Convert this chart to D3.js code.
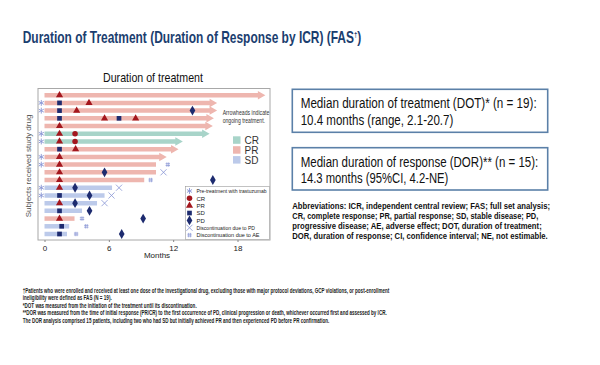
<!DOCTYPE html>
<html>
<head>
<meta charset="utf-8">
<script src="https://cdnjs.cloudflare.com/ajax/libs/d3/7.8.5/d3.min.js"></script>
<style>
  body { margin: 0; background: #fff; }
  svg { display: block; font-family: "Liberation Sans Narrow", "Liberation Sans", Arial, sans-serif; }
</style>
</head>
<body>
<svg id="chart" width="600" height="365"></svg>
<script>
// ---- data (months) ----
var subjects     = d3.range(1, 20);
var bestResponse = ["PR","PR","PR","PR","PR","CR","CR","PR","PR","PR","PR","PR","SD","SD","SD","SD","PR","SD","SD"];
var treatMonths  = [20.6, 16.1, 16.1, 15.8, 15.7, 15.4, 12.9, 12.5, 11.4, 10.4, 10.4, 9.3, 6.3, 5.6, 4.9, 3.5, 2.8, 2.3, 2.1];
var ongoing      = [1, 1, 1, 1, 1, 1, 1, 1, 1, 0, 0, 0, 0, 0, 0, 0, 0, 0, 0];
var pretreated   = [0, 1, 1, 0, 0, 1, 1, 0, 1, 1, 0, 0, 1, 1, 0, 0, 0, 0, 0];
var discReason   = [null, null, null, null, null, null, null, null, null, "AE", "PD", "AE", "PD", "PD", "PD", null, "AE", "AE", "AE"];
var discMonths   = [null, null, null, null, null, null, null, null, null, 11.5, 11.1, 9.9, 6.95, 6.25, 5.6, null, 3.5, 3.9, 2.95];
// [subject, assessment, month]
var assessments = [
  [1, "PR", 1.4],
  [2, "SD", 1.4], [2, "PR", 4.15],
  [3, "SD", 1.4], [3, "PR", 3.0], [3, "PD", 13.8],
  [4, "SD", 1.4], [4, "PR", 5.6], [4, "SD", 6.95], [4, "PR", 8.5],
  [5, "PR", 1.4],
  [6, "PR", 1.4], [6, "CR", 2.85],
  [7, "PR", 1.4], [7, "CR", 2.85],
  [8, "SD", 1.4], [8, "PR", 2.9],
  [9, "PR", 1.4],
  [10, "PR", 1.4],
  [11, "PR", 1.4], [11, "PD", 5.6],
  [12, "PR", 1.4], [12, "PD", 15.7],
  [13, "PR", 1.4], [13, "PD", 2.85],
  [14, "SD", 1.4], [14, "PD", 4.2],
  [15, "PR", 1.4], [15, "PD", 2.85],
  [16, "SD", 1.4], [16, "PD", 4.2],
  [17, "PR", 1.4], [17, "PD", 9.2],
  [18, "SD", 1.6],
  [19, "SD", 1.4], [19, "PD", 7.2]
];
var xTicks = [0, 6, 12, 18];
var barLegend = ["CR", "PR", "SD"];
var markerLegend = [
  ["pre", "Pre-treatment with trastuzumab", 70],
  ["CR", "CR", 0], ["PR", "PR", 0], ["SD", "SD", 0], ["PD", "PD", 0],
  ["xPD", "Discontinuation due to PD", 58.5],
  ["xAE", "Discontinuation due to AE", 63]
];

var barColor = { CR: "#a8d4c9", PR: "#eeb6af", SD: "#bccaea" };
var red = "#a3161d", navy = "#1d2b6f", lilac = "#8794d4";

var svg = d3.select("#chart");

// squeeze a text line to the width measured on the reference
function fit(sel, w) { sel.attr("textLength", w).attr("lengthAdjust", "spacingAndGlyphs"); return sel; }

// ---- page title (one text, squeezed horizontally) ----
var title = svg.append("text").attr("x", 0).attr("y", 0).attr("font-size", 16).attr("font-weight", "bold")
  .attr("fill", "#1b3e6f");
title.append("tspan").text("Duration of Treatment (Duration of Response by ICR) (FAS");
title.append("tspan").attr("font-size", 8).attr("dy", -6).text("†");
title.append("tspan").attr("dy", 6).text(")");
var tw = title.node().getComputedTextLength();
title.attr("transform", "translate(22.7,42.5) scale(" + (339 / tw) + ",1)");

// ---- plot ----
var x = d3.scaleLinear().domain([0, 18]).range([44.5, 237.5]);
var y = d3.scalePoint().domain(subjects).range([95.2, 234]);
var frame = { l: 38, t: 88.5, r: 270, b: 240 };

fit(svg.append("text").attr("x", 153).attr("y", 82).attr("text-anchor", "middle")
  .attr("font-size", 13).attr("fill", "#111").text("Duration of treatment"), 100);

svg.append("rect").attr("x", frame.l).attr("y", frame.t)
  .attr("width", frame.r - frame.l).attr("height", frame.b - frame.t)
  .attr("fill", "none").attr("stroke", "#a8a8a8").attr("stroke-width", 1);

var xAxis = svg.append("g").attr("transform", "translate(0," + frame.b + ")")
  .call(d3.axisBottom(x).tickValues(xTicks).tickSize(2).tickPadding(3));
xAxis.select(".domain").remove();
xAxis.selectAll("line").attr("stroke", "#888");
xAxis.selectAll("text").attr("font-size", 8).attr("fill", "#222")
  .attr("font-family", "Liberation Sans Narrow, Arial, sans-serif");

svg.append("text").attr("x", 157).attr("y", 258).attr("text-anchor", "middle")
  .attr("font-size", 8).attr("fill", "#222").text("Months");
svg.append("text").attr("transform", "translate(31,166) rotate(-90)").attr("text-anchor", "middle")
  .attr("font-size", 8).attr("fill", "#555").text("Subjects received study drug");

var bh = 4.5, ah = 8.5, al = 7.5;
var rows = subjects.map(function(s, i) {
  return { s: s, resp: bestResponse[i], end: treatMonths[i], on: ongoing[i], pre: pretreated[i],
           disc: discReason[i], discAt: discMonths[i] };
});

// bars, with an arrowhead when treatment is ongoing
svg.append("g").selectAll("path").data(rows).join("path")
  .attr("fill", function(d) { return barColor[d.resp]; })
  .attr("d", function(d) {
    var x0 = x(0), x1 = x(d.end), yc = y(d.s);
    if (!d.on) return "M" + x0 + "," + (yc - bh / 2) + "H" + x1 + "V" + (yc + bh / 2) + "H" + x0 + "Z";
    var xb = x1 - al;
    return "M" + x0 + "," + (yc - bh / 2) + "H" + xb + "V" + (yc - ah / 2) + "L" + x1 + "," + yc +
           "L" + xb + "," + (yc + ah / 2) + "V" + (yc + bh / 2) + "H" + x0 + "Z";
  });

function hashPath(cx, cy) {
  var s = 2.2, g = 0.9;
  return "M" + (cx - s) + "," + (cy - g) + "H" + (cx + s) + "M" + (cx - s) + "," + (cy + g) + "H" + (cx + s) +
         "M" + (cx - g) + "," + (cy - s) + "V" + (cy + s) + "M" + (cx + g) + "," + (cy - s) + "V" + (cy + s);
}
function drawMarker(g, type, cx, cy) {
  var sym;
  if (type === "PR") sym = g.append("path").attr("d", d3.symbol(d3.symbolTriangle, 22)()).attr("fill", red);
  else if (type === "CR") sym = g.append("path").attr("d", d3.symbol(d3.symbolCircle, 24)()).attr("fill", red);
  else if (type === "SD") sym = g.append("path").attr("d", d3.symbol(d3.symbolSquare, 22)()).attr("fill", navy);
  else if (type === "PD") sym = g.append("path").attr("d", d3.symbol(d3.symbolDiamond, 28)()).attr("fill", navy);
  else if (type === "pre") sym = g.append("path").attr("d", d3.symbol(d3.symbolAsterisk, 24)())
    .attr("fill", "none").attr("stroke", lilac).attr("stroke-width", 0.9);
  else if (type === "xPD") sym = g.append("path").attr("d", d3.symbol(d3.symbolTimes, 26)())
    .attr("fill", "none").attr("stroke", lilac).attr("stroke-width", 0.8);
  else if (type === "xAE") { g.append("path").attr("d", hashPath(cx, cy)).attr("fill", "none")
    .attr("stroke", lilac).attr("stroke-width", 0.7); return; }
  sym.attr("transform", "translate(" + cx + "," + cy + ")");
}

var marks = svg.append("g");
rows.forEach(function(d) {
  if (d.pre) drawMarker(marks, "pre", x(-0.3), y(d.s));
  if (d.disc) drawMarker(marks, d.disc === "PD" ? "xPD" : "xAE", x(d.discAt), y(d.s));
});
assessments.forEach(function(a) { drawMarker(marks, a[1], x(a[2]), y(a[0])); });

// arrow note
fit(svg.append("text").attr("x", 222.7).attr("y", 115).attr("font-size", 6.5).attr("fill", "#333")
  .text("Arrowheads indicate"), 46.6);
fit(svg.append("text").attr("x", 222.7).attr("y", 122.5).attr("font-size", 6.5).attr("fill", "#333")
  .text("ongoing treatment."), 42.3);

// bar colour legend
var bl = svg.append("g").selectAll("g").data(barLegend).join("g")
  .attr("transform", function(d, i) { return "translate(233," + (140.3 + i * 9.9) + ")"; });
bl.append("rect").attr("x", 0).attr("y", -4).attr("width", 7.5).attr("height", 7.5)
  .attr("fill", function(d) { return barColor[d]; });
bl.append("text").attr("x", 11.5).attr("y", 3.5).attr("font-size", 10).attr("fill", "#333")
  .text(function(d) { return d; });

// marker legend
svg.append("rect").attr("x", 185.3).attr("y", 186.5).attr("width", 84.2).attr("height", 53)
  .attr("fill", "#fff").attr("stroke", "#999").attr("stroke-width", 0.6);
markerLegend.forEach(function(m, i) {
  var cy = 191 + i * 7.35;
  drawMarker(svg, m[0], 189.5, cy);
  var t = svg.append("text").attr("x", 196.5).attr("y", cy + 2.3).attr("font-size", 6).attr("fill", "#222").text(m[1]);
  if (m[2]) fit(t, m[2]);
});

// ---- summary boxes ----
function infoBox(y0, h, l1, w1, l2, w2) {
  svg.append("rect").attr("x", 292.3).attr("y", y0).attr("width", 255.4).attr("height", h)
    .attr("fill", "#fff").attr("stroke", "#5b80a8").attr("stroke-width", 1.6);
  fit(svg.append("text").attr("x", 300.7).attr("y", y0 + 19).attr("font-size", 14).attr("fill", "#111").text(l1), w1);
  fit(svg.append("text").attr("x", 300.7).attr("y", y0 + 35.7).attr("font-size", 14).attr("fill", "#111").text(l2), w2);
}
infoBox(89.3, 43, "Median duration of treatment (DOT)* (n = 19):", 236, "10.4 months (range, 2.1-20.7)", 152.6);
infoBox(147.7, 42.3, "Median duration of response (DOR)** (n = 15):", 237.6, "14.3 months (95%CI, 4.2-NE)", 147.6);

var abbrev = [
  ["Abbreviations: ICR, independent central review; FAS; full set analysis;", 257.7],
  ["CR, complete response; PR, partial response; SD, stable disease; PD,", 246],
  ["progressive disease; AE, adverse effect; DOT, duration of treatment;", 249.4],
  ["DOR, duration of response; CI, confidence interval; NE, not estimable.", 255.4]
];
abbrev.forEach(function(a, i) {
  fit(svg.append("text").attr("x", 292.3).attr("y", 208.5 + i * 10).attr("font-size", 9)
    .attr("font-weight", "bold").attr("fill", "#111").text(a[0]), a[1]);
});

// ---- footnotes ----
var notes = [
  ["†Patients who were enrolled and received at least one dose of the investigational drug, excluding those with major protocol deviations, GCP violations, or post-enrollment", 366.6],
  ["ineligibility were defined as FAS (N = 19).", 89],
  ["*DOT was measured from the initiation of the treatment until its discontinuation.", 174],
  ["**DOR was measured from the time of initial response (PR/CR) to the first occurrence of PD, clinical progression or death, whichever occurred first and assessed by ICR.", 364],
  ["The DOR analysis comprised 15 patients, including two who had SD but initially achieved PR and then experienced PD before PR confirmation.", 306.6]
];
notes.forEach(function(n, i) {
  fit(svg.append("text").attr("x", 22.7).attr("y", 292.5 + i * 7.6).attr("font-size", 6.5)
    .attr("font-weight", "bold").attr("fill", "#222").text(n[0]), n[1]);
});
</script>
</body>
</html>
